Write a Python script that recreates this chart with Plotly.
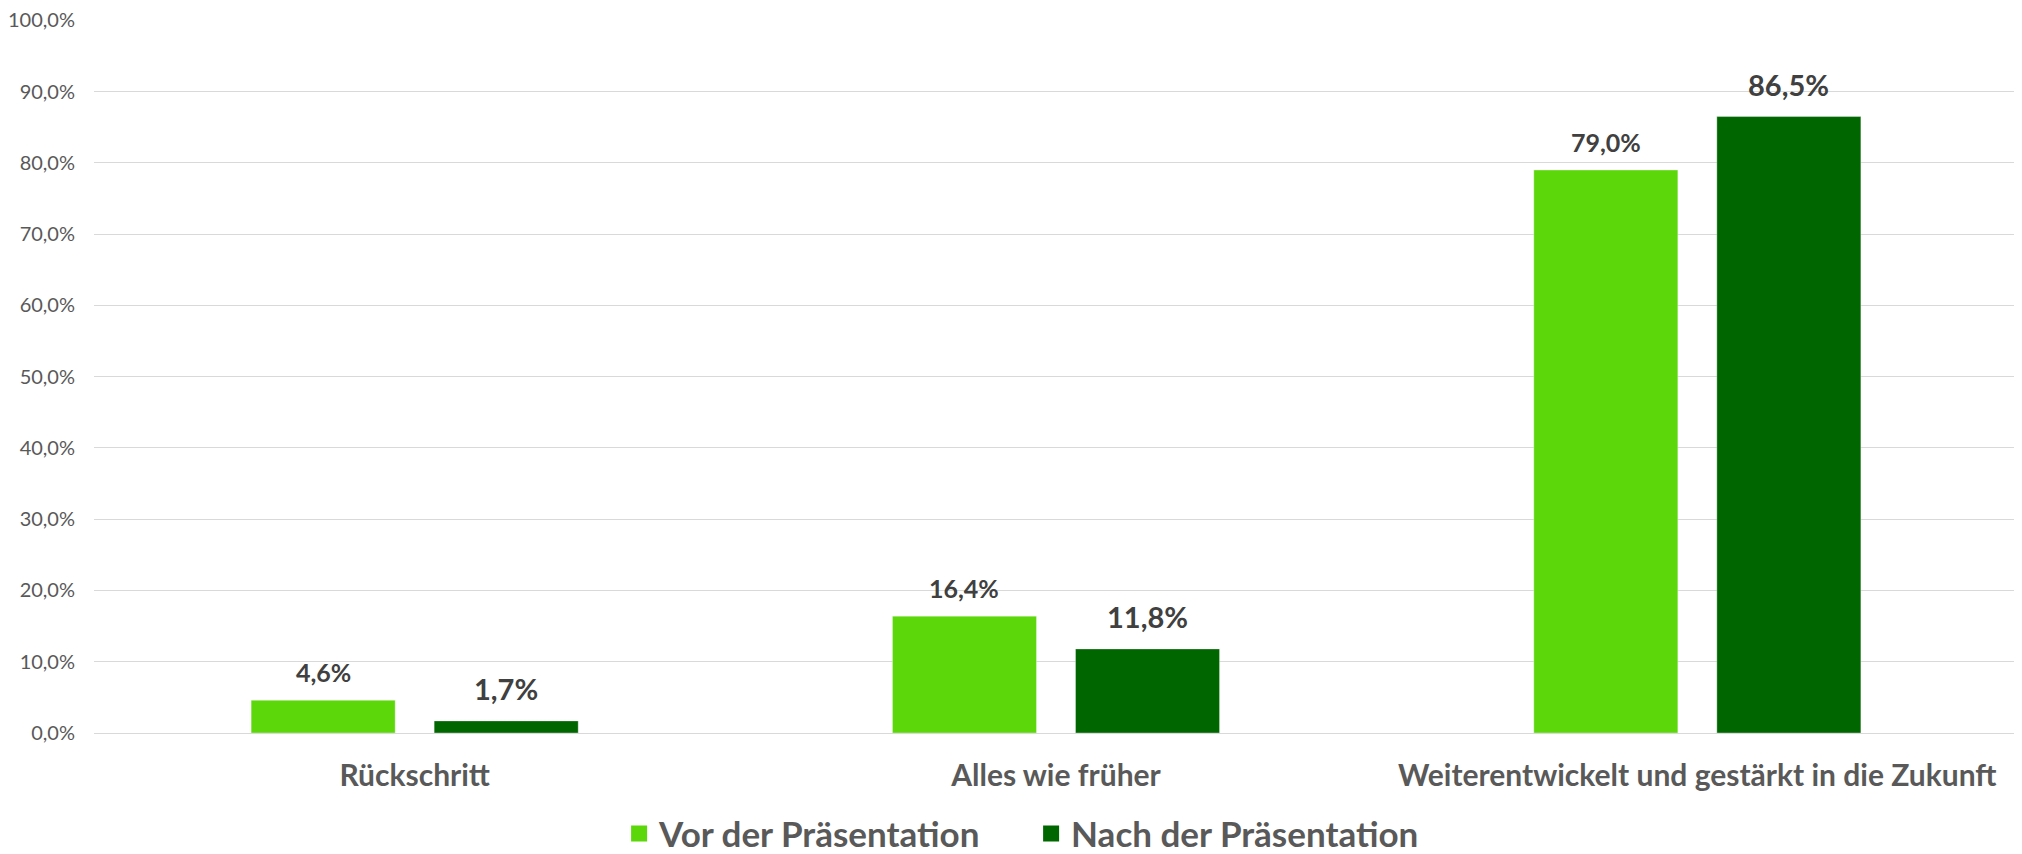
import plotly.graph_objects as go

categories = ["Rückschritt", "Alles wie früher", "Weiterentwickelt und gestärkt in die Zukunft"]
vor = [0.046, 0.164, 0.790]
nach = [0.017, 0.118, 0.865]
series_names = ["Vor der Präsentation", "Nach der Präsentation"]
colors = ["#5BD70A", "#006600"]
y_ticks = [0.0, 0.1, 0.2, 0.3, 0.4, 0.5, 0.6, 0.7, 0.8, 0.9, 1.0]

FONT = "Lato"
pos = list(range(len(categories)))
bar_w = 0.2246
half = 0.1427  # distance of each bar centre from category centre

# the page body has an 8px default margin, so the figure is sized to fit the window
PAGE_OFF = 8
W, H = 2022 - PAGE_OFF, 854 - PAGE_OFF

fig = go.Figure()
for vals, name, col, sign, lab_size, shift in [
    (vor, series_names[0], colors[0], -1, 25, 11),
    (nach, series_names[1], colors[1], 1, 29, 13),
]:
    xs = [p + sign * half for p in pos]
    fig.add_trace(go.Bar(
        x=xs, y=vals, name=name, width=bar_w, showlegend=False,
        marker=dict(color=col, line=dict(color="rgba(255,255,255,0.35)", width=1)),
        hoverinfo="skip",
    ))
    for x, v in zip(xs, vals):
        fig.add_annotation(x=x, y=v, xref="x", yref="y", text=f"{v*100:.1f}%".replace(".", ","),
                           showarrow=False, yanchor="bottom", yshift=shift,
                           font=dict(family=FONT, size=lab_size, color="#404040", weight="bold"))
    # legend entry
    fig.add_trace(go.Scatter(
        x=[None], y=[None], mode="markers", name=name,
        marker=dict(symbol="square", size=20, color=col),
    ))

fig.update_layout(
    width=W, height=H,
    margin=dict(l=94 - PAGE_OFF, r=4, t=20 - PAGE_OFF, b=121, autoexpand=False),
    paper_bgcolor="white", plot_bgcolor="white",
    barmode="overlay",
    separators=",.",
    font=dict(family=FONT, color="#595959"),
    showlegend=True,
    legend=dict(orientation="h", x=0.508, xanchor="center", xref="container",
                y=0.024, yanchor="middle", yref="container",
                font=dict(family=FONT, size=35, color="#595959", weight="bold"),
                itemwidth=30, itemsizing="trace", entrywidth=367),
)
fig.update_yaxes(range=[0, 1.0005], tickvals=y_ticks, tickformat=".1%", showgrid=True,
                 gridcolor="#d9d9d9", gridwidth=1, zeroline=False, showline=False,
                 ticks="", ticklabelstandoff=18, automargin=False,
                 ticklabeloverflow="allow",
                 tickfont=dict(family=FONT, size=20, color="#595959"))
fig.update_xaxes(range=[-0.5, len(categories) - 0.5], tickvals=pos, ticktext=categories,
                 showgrid=False, zeroline=False,
                 showline=True, linecolor="#d9d9d9", linewidth=1, ticks="",
                 ticklabeloverflow="allow",
                 tickfont=dict(family=FONT, size=30, color="#595959", weight="bold"),
                 ticklabelstandoff=16, automargin=False)
fig.write_html("out.html")
